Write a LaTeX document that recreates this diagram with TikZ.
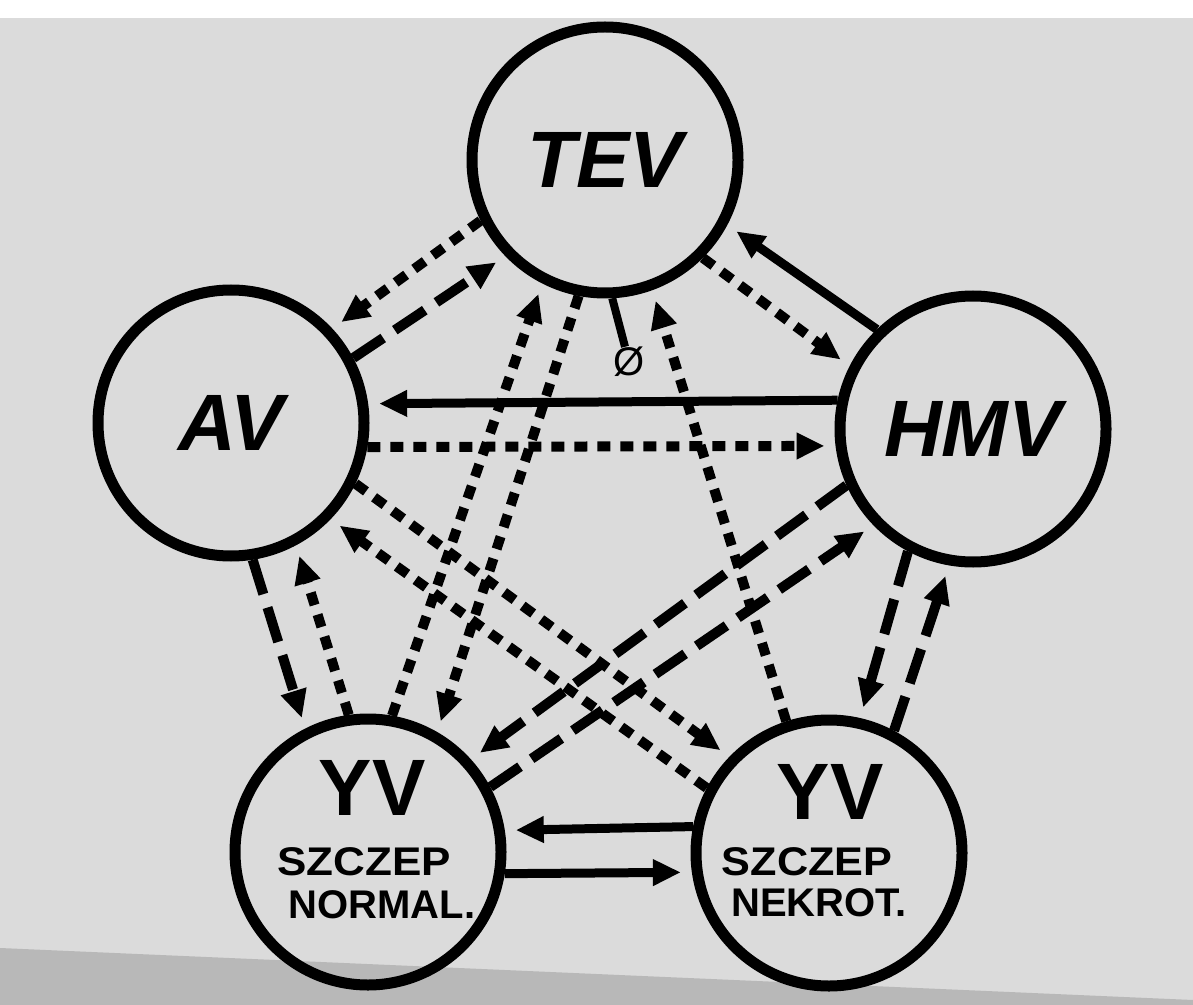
\documentclass[tikz,border=0pt]{standalone}
\usepackage{graphicx}
\usepackage{fontspec}
\setmainfont{Liberation Sans}
\usetikzlibrary{arrows.meta}

\definecolor{paper}{gray}{0.86}
\definecolor{paperdark}{gray}{0.72}

\tikzset{
  virus/.style={circle, draw=black, line width=5.5pt, minimum size=133pt, inner sep=0pt},
  virusname/.style={font=\fontsize{40pt}{40pt}\selectfont\bfseries\itshape},
  strainname/.style={font=\fontsize{40pt}{40pt}\selectfont\bfseries, inner sep=0pt},
  strainnote/.style={font=\fontsize{20pt}{20pt}\selectfont\bfseries, inner sep=0pt},
  nullmark/.style={font=\fontsize{20pt}{20pt}\selectfont, inner sep=0pt},
  link/.style={-{Triangle[length=14pt,width=12.5pt]}, shorten >=5.5pt},
  solidlink/.style={link, line width=4.5pt},
  dotlink/.style={link, line width=5pt, dash pattern=on 6.5pt off 5pt},
  dashlink/.style={link, line width=5pt, dash pattern=on 18pt off 7pt},
}

\begin{document}
\begin{tikzpicture}[x=0.5pt, y=-0.5pt]
  % paper
  \useasboundingbox (0,0) rectangle (1193,1005);
  \fill[paper] (0,0) rectangle (1193,1005);
  \fill[white] (0,0) rectangle (1193,18);
  \fill[paperdark] (0,948) -- (1193,1000) -- (1193,1005) -- (0,1005) -- cycle;

  % viruses
  \node[virus, virusname] (tev) at (605,160) {TEV};
  \node[virus, virusname] (av)  at (231,423) {AV};
  \node[virus, virusname] (hmv) at (973,429) {HMV};
  \node[virus] (yvn) at (368,852) {};
  \node[virus] (yvk) at (829,853) {};

  % strain labels
  \node[strainname] (yvn-name) at (372,788) {YV};
  \node[strainnote] (yvn-kind) at (364,862) {\scalebox{1.1}[1]{SZCZEP}};
  \node[strainnote] (yvn-type) at (382,905) {NORMAL.};
  \node[strainname] (yvk-name) at (830,792) {YV};
  \node[strainnote] (yvk-kind) at (807,862) {\scalebox{1.08}[1]{SZCZEP}};
  \node[strainnote] (yvk-type) at (819,903) {NEKROT.};

  % TEV and AV
  \draw[dotlink]  (tev.206.6) -- (av.43.6);
  \draw[dashlink] (av.28.7)   -- (tev.224.5);
  % TEV and HMV
  \draw[solidlink] (hmv.134.7) -- (tev.-28.8);
  \draw[dotlink]   (tev.-45.8) -- (hmv.153.1);
  % AV and HMV
  \draw[solidlink] (hmv.168.7) -- (av.8.6);
  \draw[dotlink]   (av.-10.4)  -- (hmv.187.8);
  % TEV and YV normal
  \draw[dotlink] (yvn.80.4)   -- (tev.-117.6);
  \draw[dotlink] (tev.-101.1) -- (yvn.60.3);
  % TEV and YV necrotic
  \draw[dotlink] (yvk.108) -- (tev.-70);
  \node[nullmark] (zero) at (629,362) {Ø};
  \draw[line width=4pt] (tev.-87.6) -- (zero);
  % AV and YV normal
  \draw[dashlink] (av.-81.2) -- (yvn.117.9);
  \draw[dotlink]  (yvn.98.4) -- (av.-62.4);
  % AV and YV necrotic
  \draw[dotlink] (av.-26.7)  -- (yvk.136.8);
  \draw[dotlink] (yvk.152.1) -- (av.-44.7);
  % HMV and YV normal
  \draw[dashlink] (hmv.204.7) -- (yvn.42.9);
  \draw[dashlink] (yvn.28.5)  -- (hmv.-136.9);
  % HMV and YV necrotic
  \draw[dashlink] (hmv.-118)  -- (yvk.77.2);
  \draw[dashlink] (yvk.62.4)  -- (hmv.-100.2);
  % the two YV strains
  \draw[solidlink] (yvk.169.4) -- (yvn.9.5);
  \draw[solidlink] (yvn.-9)    -- (yvk.188.6);
\end{tikzpicture}
\end{document}
